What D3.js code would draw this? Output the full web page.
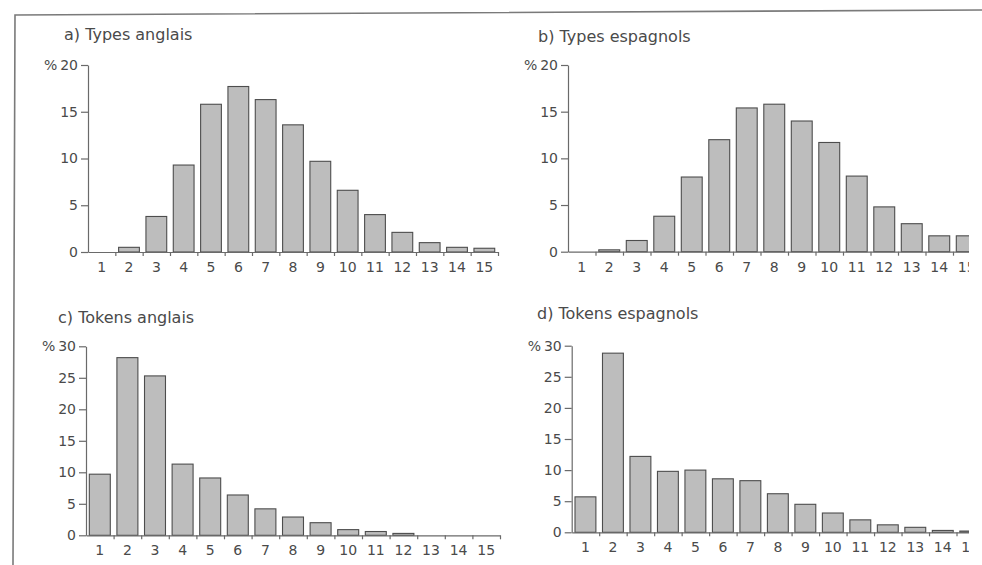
<!DOCTYPE html>
<html>
<head>
<meta charset="utf-8">
<script src="https://cdn.jsdelivr.net/npm/d3@7"></script>
<style>
  body { margin: 0; background: #fff; }
  svg { display: block; }
  text { font-family: "DejaVu Sans", sans-serif; fill: #4a4a4a; }
</style>
</head>
<body>
<svg id="chart" width="982" height="565"></svg>
<script>
// word length (number of letters / phonemes) 1..15
const categories = d3.range(1, 16).map(String);

// percentages
const typesAnglais    = [0, 0.5, 3.8, 9.3, 15.8, 17.7, 16.3, 13.6, 9.7, 6.6, 4.0, 2.1, 1.0, 0.5, 0.4];
const typesEspagnols  = [0, 0.2, 1.2, 3.8, 8.0, 12.0, 15.4, 15.8, 14.0, 11.7, 8.1, 4.8, 3.0, 1.7, 1.7];
const tokensAnglais   = [9.7, 28.2, 25.3, 11.3, 9.1, 6.4, 4.2, 2.9, 2.0, 0.9, 0.6, 0.3, 0, 0, 0];
const tokensEspagnols = [5.7, 28.8, 12.2, 9.8, 10.0, 8.6, 8.3, 6.2, 4.5, 3.1, 2.0, 1.2, 0.8, 0.3, 0.2];

const titles = ["a) Types anglais", "b) Types espagnols", "c) Tokens anglais", "d) Tokens espagnols"];
const yTicksTypes  = [0, 5, 10, 15, 20];
const yTicksTokens = [0, 5, 10, 15, 20, 25, 30];

const svg = d3.select("#chart");

// clip for the right-hand panels (page is cut off on the right)
svg.append("defs").append("clipPath").attr("id", "pageclip")
  .append("rect").attr("x", 0).attr("y", 0).attr("width", 969).attr("height", 565);

// scanned page border
svg.append("path")
  .attr("d", "M13,565 L15,15 L982,10")
  .attr("fill", "none")
  .attr("stroke", "#7a7a7a")
  .attr("stroke-width", 1.6);

// panel layout: axis origin, x extent, y extent, title position
const panels = [
  {data: typesAnglais,    ticks: yTicksTypes,  x0: 88,    x1: 498,   y0: 252,   y1: 65,    tx: 64,  ty: 40,  clip: false},
  {data: typesEspagnols,  ticks: yTicksTypes,  x0: 568,   x1: 980.5, y0: 251.7, y1: 65,    tx: 538, ty: 42,  clip: true},
  {data: tokensAnglais,   ticks: yTicksTokens, x0: 86,    x1: 500,   y0: 535.3, y1: 346.3, tx: 58,  ty: 323, clip: false},
  {data: tokensEspagnols, ticks: yTicksTokens, x0: 571.7, x1: 984,   y0: 532.3, y1: 345.7, tx: 537, ty: 319, clip: true}
];

panels.forEach((p, i) => {
  const g = svg.append("g");
  if (p.clip) g.attr("clip-path", "url(#pageclip)");

  const yMax = d3.max(p.ticks);
  const x = d3.scaleBand().domain(categories).range([p.x0, p.x1]);
  const xEdge = d3.scaleLinear().domain([0, categories.length]).range([p.x0, p.x1]);
  const y = d3.scaleLinear().domain([0, yMax]).range([p.y0, p.y1]);

  // title
  g.append("text")
    .attr("x", p.tx)
    .attr("y", p.ty)
    .attr("font-size", 16)
    .text(titles[i]);

  // bars
  const bw = x.bandwidth();
  g.append("g")
    .selectAll("rect")
    .data(p.data)
    .enter()
    .append("rect")
    .attr("x", (d, j) => x(categories[j]) + bw * 0.12)
    .attr("width", bw * 0.76)
    .attr("y", d => y(d))
    .attr("height", d => p.y0 - y(d))
    .attr("fill", "#bdbdbd")
    .attr("stroke", "#4d4d4d")
    .attr("stroke-width", 1.1);

  // x axis line + boundary ticks
  const xAxis = g.append("g")
    .attr("transform", "translate(0," + p.y0 + ")")
    .call(d3.axisBottom(xEdge).tickValues(d3.range(1, categories.length + 1)).tickSize(4).tickSizeOuter(0).tickFormat(""));
  xAxis.selectAll("path, line").attr("stroke", "#6a6a6a").attr("stroke-width", 1.2);

  // x labels centred in each band
  const xLab = g.append("g")
    .attr("transform", "translate(0," + p.y0 + ")")
    .call(d3.axisBottom(x).tickSize(0).tickPadding(10));
  xLab.select(".domain").remove();
  xLab.selectAll("text").attr("font-size", 14).attr("font-family", "DejaVu Sans").attr("fill", "#4a4a4a");

  // y axis
  const yAxis = g.append("g")
    .attr("transform", "translate(" + p.x0 + ",0)")
    .call(d3.axisLeft(y).tickValues(p.ticks).tickSize(7).tickSizeOuter(0).tickPadding(3)
      .tickFormat(d => d === yMax ? "%\u2009" + d : d));
  yAxis.selectAll("path, line").attr("stroke", "#6a6a6a").attr("stroke-width", 1.2);
  yAxis.selectAll("text").attr("font-size", 14).attr("font-family", "DejaVu Sans").attr("fill", "#4a4a4a");
});
</script>
</body>
</html>
